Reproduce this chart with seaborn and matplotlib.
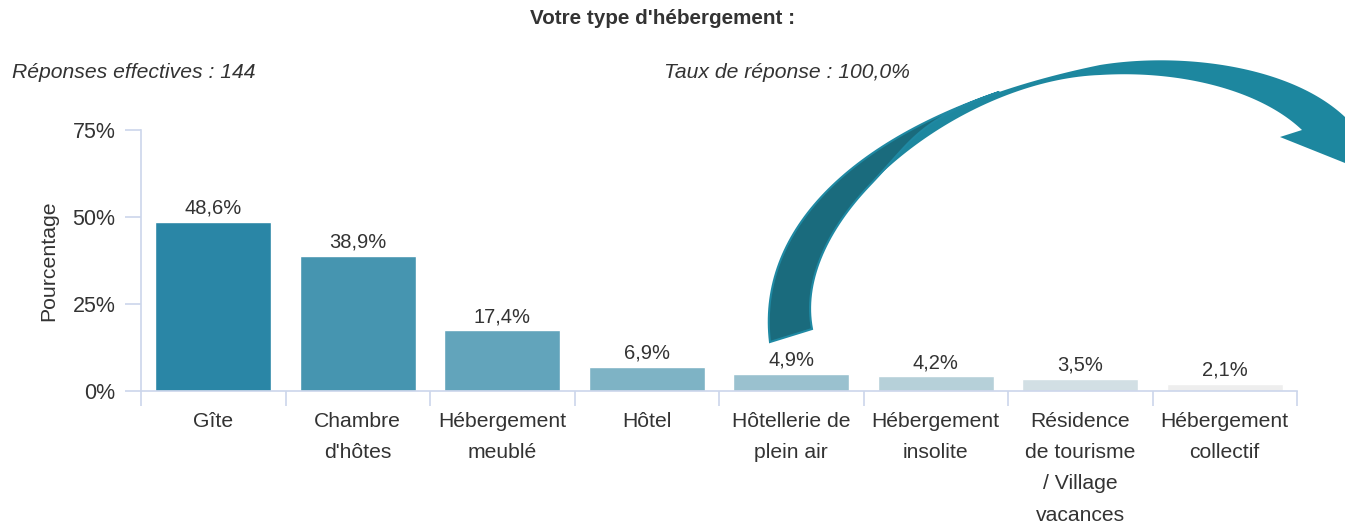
import numpy as np
import pandas as pd
import matplotlib
matplotlib.use('Agg')
import matplotlib.pyplot as plt
import seaborn as sns
from matplotlib.patches import Polygon

categories = ['Gîte', "Chambre\nd'hôtes", 'Hébergement\nmeublé', 'Hôtel',
              'Hôtellerie de\nplein air', 'Hébergement\ninsolite',
              'Résidence\nde tourisme\n/ Village\nvacances', 'Hébergement\ncollectif']
values = [48.6, 38.9, 17.4, 6.9, 4.9, 4.2, 3.5, 2.1]
value_labels = ['48,6%', '38,9%', '17,4%', '6,9%', '4,9%', '4,2%', '3,5%', '2,1%']
bar_colors = ['#2a86a6', '#4695b0', '#62a4bb', '#7eb3c5',
              '#9ac1cf', '#b6d0d9', '#d2dfe4', '#eeeeee']
y_ticks = [0, 25, 50, 75]

sns.set_style('white')
plt.rcParams['font.family'] = ['Liberation Sans', 'DejaVu Sans']

W, H = 1345, 525
fig = plt.figure(figsize=(W / 100, H / 100), dpi=100)
ax = fig.add_axes([141 / W, 1 - 391 / H, (1297 - 141) / W, (391 - 130) / H])

df = pd.DataFrame({'cat': categories, 'val': values})
sns.barplot(data=df, x='cat', y='val', hue='cat', palette=bar_colors, legend=False,
            saturation=1, width=0.8, edgecolor='white', linewidth=1, ax=ax)

axis_col = '#ccd6eb'
txt_col = '#333333'
ax.set_ylim(0, 75)
ax.set_xlim(-0.5, len(values) - 0.5)
ax.set_yticks(y_ticks)
ax.set_yticklabels([f'{t}%' for t in y_ticks], fontsize=15.5, color=txt_col)
ax.set_xticks(range(len(values)))
ax.set_xticklabels(categories, fontsize=15.2, color=txt_col, linespacing=1.82, va='top')
ax.set_xticks(np.arange(-0.5, len(values)), minor=True)
ax.tick_params(axis='x', which='major', bottom=True, length=0, pad=15)
ax.tick_params(axis='x', which='minor', bottom=True, length=11, width=1.2,
               color=axis_col, direction='out')
ax.tick_params(axis='y', left=True, length=11.5, width=1.2, color=axis_col, pad=7,
               direction='out')
for s in ['top', 'right']:
    ax.spines[s].set_visible(False)
for s in ['left', 'bottom']:
    ax.spines[s].set_color(axis_col)
    ax.spines[s].set_linewidth(1.2)
ax.set_xlabel('')
ax.set_ylabel('Pourcentage', fontsize=15.3, color=txt_col, labelpad=10)

for i, (v, lab) in enumerate(zip(values, value_labels)):
    ax.annotate(lab, (i, v), xytext=(0, 3), textcoords='offset points',
                ha='center', va='bottom', fontsize=14.5, color=txt_col)

fig.text(663 / W, 1 - 19 / H, "Votre type d'hébergement :", ha='center', va='center',
         fontsize=14.9, fontweight='bold', color=txt_col)
fig.text(12 / W, 1 - 72 / H, 'Réponses effectives : 144', ha='left', va='center',
         fontsize=15.2, style='italic', color=txt_col)
fig.text(664 / W, 1 - 72 / H, 'Taux de réponse : 100,0%', ha='left', va='center',
         fontsize=15.2, style='italic', color=txt_col)


# decorative curved arrow (figure pixel coords)
def bez(p0, p1, p2, p3, n=80):
    t = np.linspace(0, 1, n)[:, None]
    p0, p1, p2, p3 = map(np.array, (p0, p1, p2, p3))
    return (1 - t) ** 3 * p0 + 3 * (1 - t) ** 2 * t * p1 + 3 * (1 - t) * t ** 2 * p2 + t ** 3 * p3


outer1 = bez((770, 342), (755, 215), (880, 110), (1100, 65))
outer2 = bez((1100, 65), (1180, 52), (1290, 65), (1345, 117))
inner2 = bez((1302, 130), (1260, 90), (1180, 70), (1100, 75))
inner1 = bez((812, 329), (790, 215), (960, 80), (1100, 75))  # bottom -> top
head = np.array([[1345, 163], [1280, 137]])
pts = np.vstack([outer1, outer2, head, inner2, inner1[::-1]])


def to_fig(p):
    p = np.asarray(p, dtype=float)
    return np.column_stack([p[:, 0] / W, 1 - p[:, 1] / H])


fig.add_artist(Polygon(to_fig(pts), closed=True, facecolor='#1d879f', edgecolor='none',
                       transform=fig.transFigure, clip_on=False))

# darker back face of the twisted ribbon
t = np.linspace(0, 1, len(outer1))
s = np.clip((t - 0.42) / 0.42, 0, 1)
w = (s * s * (3 - 2 * s))[:, None]
keep = t <= 0.84
dark_in = inner1 + w * (outer1 - inner1)
dark = np.vstack([outer1[keep], dark_in[keep][::-1]])
fig.add_artist(Polygon(to_fig(dark), closed=True, facecolor='#1a6b7d', edgecolor='#1f89a3',
                       linewidth=1.5, transform=fig.transFigure, clip_on=False))

fig.savefig('out.png', dpi=100)
